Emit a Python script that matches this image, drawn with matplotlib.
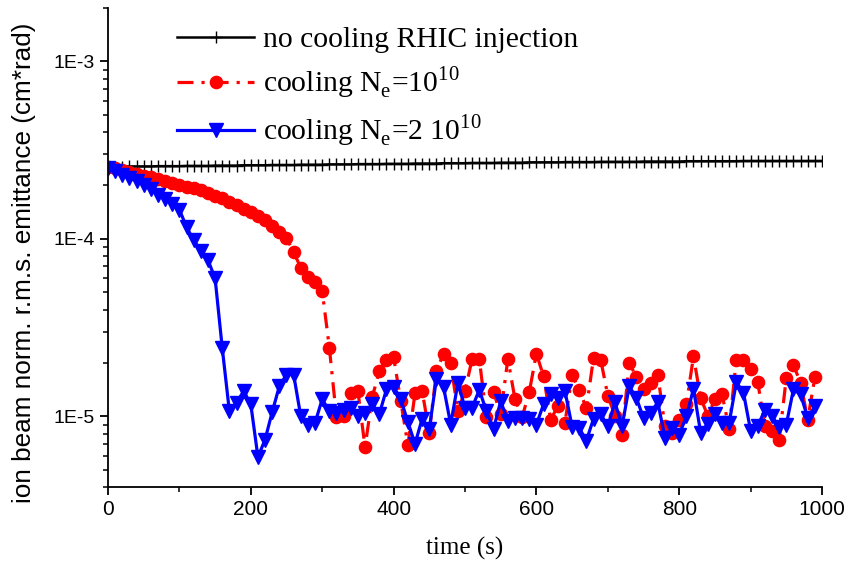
import numpy as np
import matplotlib
matplotlib.use("Agg")
import matplotlib.pyplot as plt
from matplotlib.ticker import LogLocator, NullFormatter, MultipleLocator

# time axis (s)
t_black = np.arange(0, 1001, 10)
t_cool = np.arange(0, 1000, 10)

# no cooling, units of 1e-4 cm*rad
no_cooling = [2.55, 2.55, 2.55, 2.56, 2.56, 2.56, 2.56, 2.57, 2.57, 2.57,
              2.57, 2.58, 2.58, 2.58, 2.58, 2.59, 2.59, 2.59, 2.59, 2.60,
              2.60, 2.60, 2.60, 2.61, 2.61, 2.61, 2.61, 2.62, 2.62, 2.62,
              2.62, 2.63, 2.63, 2.63, 2.63, 2.64, 2.64, 2.64, 2.64, 2.65,
              2.65, 2.65, 2.65, 2.66, 2.66, 2.66, 2.66, 2.67, 2.67, 2.67,
              2.67, 2.68, 2.68, 2.68, 2.68, 2.69, 2.69, 2.69, 2.69, 2.70,
              2.70, 2.70, 2.70, 2.70, 2.71, 2.71, 2.71, 2.71, 2.71, 2.72,
              2.72, 2.72, 2.72, 2.72, 2.72, 2.73, 2.73, 2.73, 2.73, 2.73,
              2.73, 2.74, 2.74, 2.74, 2.74, 2.74, 2.74, 2.74, 2.74, 2.75,
              2.75, 2.75, 2.75, 2.75, 2.75, 2.75, 2.75, 2.75, 2.75, 2.75,
              2.75]

# cooling Ne=1e10, units of 1e-5 cm*rad
cool_1 = [25.5, 25.0, 24.4, 23.8, 23.3, 22.7, 22.2, 21.7, 21.1, 20.6,
          20.2, 19.7, 19.3, 18.8, 18.1, 17.5, 16.9, 16.2, 15.5, 14.8,
          14.2, 13.5, 12.7, 11.9, 10.9, 10.1, 8.4, 6.9, 6.1, 5.7,
          5.1, 2.44, 0.99, 1.01, 1.35, 1.39, 0.67, 1.28, 1.80, 2.09,
          2.16, 1.22, 0.69, 1.35, 1.39, 0.81, 1.80, 2.26, 1.99, 1.07,
          1.39, 2.11, 2.11, 0.99, 1.37, 1.03, 2.11, 1.25, 0.99, 1.37,
          2.26, 1.68, 0.96, 1.14, 0.92, 1.72, 1.41, 1.11, 2.14, 2.09,
          1.31, 1.01, 0.79, 2.00, 1.67, 1.42, 1.55, 1.72, 0.88, 0.81,
          0.96, 1.17, 2.18, 1.27, 1.01, 1.25, 1.33, 0.85, 2.09, 2.09,
          1.84, 1.56, 0.88, 0.83, 0.74, 1.65, 1.94, 1.55, 0.96, 1.66]

# cooling Ne=2e10, units of 1e-5 cm*rad
cool_2 = [25.0, 24.2, 22.9, 21.9, 21.3, 20.1, 19.0, 17.7, 16.7, 15.7,
          14.6, 11.7, 9.8, 8.6, 7.6, 6.0, 2.43, 1.07, 1.19, 1.39,
          1.17, 0.59, 0.74, 1.06, 1.48, 1.72, 1.72, 1.00, 0.89, 0.92,
          1.25, 1.07, 1.05, 1.09, 1.12, 1.00, 1.05, 1.17, 1.03, 1.42,
          1.47, 1.25, 0.93, 0.70, 0.97, 0.85, 1.63, 1.46, 0.90, 1.54,
          1.12, 1.12, 1.41, 1.07, 0.85, 1.22, 0.94, 0.98, 0.98, 0.97,
          0.90, 1.17, 1.33, 1.27, 1.39, 0.875, 0.86, 0.73, 0.97, 1.03,
          0.88, 1.20, 0.88, 1.48, 1.27, 0.98, 1.05, 1.20, 0.76, 0.86,
          0.79, 1.00, 1.43, 0.81, 0.91, 1.03, 0.92, 0.92, 1.56, 1.36,
          0.83, 0.88, 1.09, 1.00, 0.875, 0.90, 1.42, 1.33, 0.98, 1.14]

labels = ["no cooling RHIC injection",
          r"cooling N$_\mathregular{e}$=10$^\mathregular{10}$",
          r"cooling N$_\mathregular{e}$=2 10$^\mathregular{10}$"]

plt.rcParams['mathtext.fontset'] = 'custom'
plt.rcParams['mathtext.rm'] = 'Liberation Serif'

fig = plt.figure(figsize=(8.47, 5.64), dpi=100)
ax = fig.add_axes([0.1275, 0.1365, 0.843, 0.8493])

ax.plot(t_black, np.array(no_cooling) * 1e-4, color='black', lw=1.8,
        marker='+', ms=8.5, mew=1.0, label=labels[0])
ax.plot(t_cool, np.array(cool_1) * 1e-5, color='#ff0000', lw=2.3,
        ls=(0, (5, 2.5, 1, 2.5)), marker='o', ms=8.8, mec='#ff0000',
        label=labels[1])
ax.plot(t_cool, np.array(cool_2) * 1e-5, color='#0000ff', lw=2.3,
        marker='v', ms=10, mec='#0000ff', label=labels[2])

ax.set_yscale('log')
ax.set_xlim(0, 1000)
ax.set_ylim(4e-6, 2e-3)

ax.set_yticks([1e-5, 1e-4, 1e-3])
ax.set_yticklabels(["1E-5", "1E-4", "1E-3"])
ax.yaxis.set_minor_locator(LogLocator(base=10, subs=np.arange(2, 10)))
ax.yaxis.set_minor_formatter(NullFormatter())
ax.xaxis.set_major_locator(MultipleLocator(200))
ax.xaxis.set_minor_locator(MultipleLocator(100))

for s in ['top', 'right']:
    ax.spines[s].set_visible(False)
for s in ['left', 'bottom']:
    ax.spines[s].set_linewidth(1.3)

ax.tick_params(which='major', direction='out', length=6, width=1.3)
ax.tick_params(which='minor', direction='out', length=3.5, width=1.1)
for lab in ax.get_yticklabels():
    lab.set_family('Liberation Sans')
    lab.set_fontsize(14)
for lab in ax.get_xticklabels():
    lab.set_family(['Liberation Sans Narrow', 'DejaVu Sans Condensed', 'Liberation Sans'])
    lab.set_fontsize(15)

ax.set_xlabel("time (s)", family='Liberation Serif', fontsize=18, labelpad=13)
ax.set_ylabel("ion beam norm. r.m.s. emittance (cm*rad)",
              family='Liberation Sans', fontsize=18.8)
ax.yaxis.set_label_coords(-0.101, 0.468)

ax.legend(loc='upper left', bbox_to_anchor=(0.097, 0.962), frameon=False,
          prop={'family': 'Liberation Serif', 'size': 21.3},
          handlelength=2.6, handletextpad=0.3, labelspacing=0.38,
          borderpad=0, borderaxespad=0)

fig.savefig("out.png", dpi=100)
